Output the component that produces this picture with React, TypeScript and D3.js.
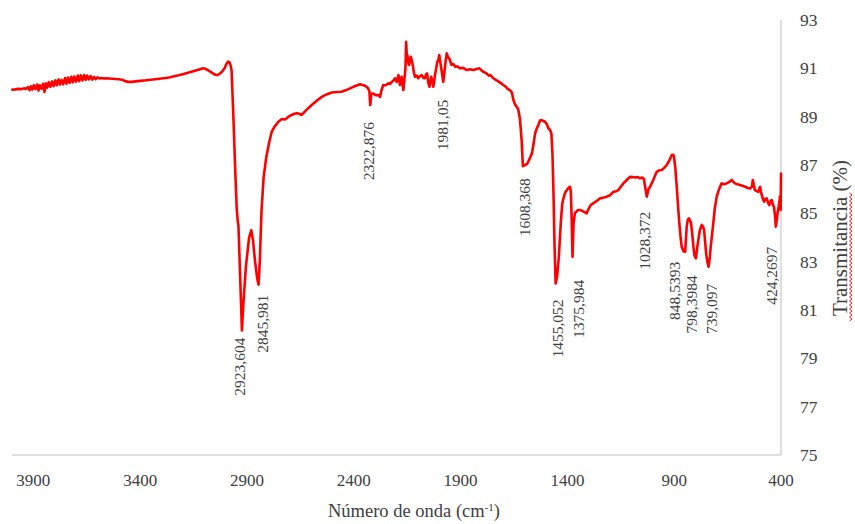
import React from "react";
import * as d3 from "d3";

// FTIR spectrum: wavenumber (cm-1) and transmittance (%)
const wavenumber: number[] = [
  3998, 3985, 3970, 3955, 3945, 3935, 3925, 3918, 3912, 3905, 3898, 3890, 3882, 3876, 3870, 3862,
  3855, 3848, 3842, 3835, 3828, 3820, 3812, 3805, 3797, 3790, 3782, 3775, 3768, 3760, 3752, 3745,
  3738, 3730, 3722, 3715, 3708, 3700, 3692, 3685, 3678, 3670, 3662, 3655, 3648, 3640, 3632, 3624,
  3616, 3608, 3600, 3590, 3580, 3570, 3560, 3545, 3530, 3515, 3500, 3485, 3470, 3455, 3440, 3420,
  3400, 3380, 3360, 3340, 3320, 3300, 3280, 3260, 3240, 3220, 3200, 3180, 3160, 3140, 3120, 3105,
  3095, 3082, 3065, 3050, 3040, 3030, 3017, 3005, 2995, 2988, 2982, 2976, 2972, 2968, 2962, 2955,
  2948, 2943, 2940, 2935, 2929, 2923.604, 2918, 2905, 2890, 2880, 2872, 2862, 2852, 2845.981, 2840, 2832,
  2822, 2810, 2797, 2784, 2770, 2753, 2737, 2722, 2705, 2691, 2678, 2667, 2655, 2644, 2625, 2597,
  2575, 2550, 2525, 2503, 2480, 2457, 2435, 2410, 2390, 2371, 2355, 2347, 2335, 2327, 2322.876, 2318,
  2308, 2300, 2293, 2285, 2277, 2270, 2262, 2250, 2238, 2230, 2222, 2214, 2207, 2199, 2191, 2184,
  2176, 2168, 2162, 2158, 2155, 2151, 2149, 2144, 2141, 2137, 2133, 2128, 2124, 2118, 2113, 2105,
  2098, 2090, 2082, 2074, 2067, 2062, 2057, 2051, 2046, 2041, 2037, 2032, 2028, 2023, 2020, 2014,
  2009, 2004, 2000, 1994, 1988, 1981.05, 1975, 1970, 1965, 1958, 1953, 1947, 1942, 1934, 1926, 1915,
  1903, 1888, 1871, 1856, 1840, 1826, 1812, 1800, 1794, 1780, 1768, 1760, 1747, 1735, 1722, 1710,
  1700, 1690, 1680, 1669, 1660, 1653, 1645, 1637, 1630, 1622, 1614, 1608.368, 1598, 1588, 1580, 1566,
  1558, 1551, 1544, 1536, 1528, 1520, 1512, 1505, 1497, 1489, 1481, 1475, 1470, 1465, 1460, 1455.052,
  1448, 1440, 1431, 1424, 1419, 1411, 1403, 1395, 1388, 1384, 1380, 1375.984, 1371, 1365, 1360, 1350,
  1341, 1330, 1320, 1310, 1300, 1290, 1279, 1265, 1247, 1230, 1216, 1200, 1185, 1175, 1162, 1150,
  1138, 1122, 1107, 1095, 1080, 1070, 1060, 1050, 1042, 1036, 1028.372, 1020, 1013, 1005, 998, 990,
  982, 970, 958, 947, 935, 922, 912, 905, 901, 895, 888, 882, 876, 870, 865, 856,
  848.5393, 841.5, 836, 831, 826, 821, 815, 810, 805, 798.3984, 792, 787, 780, 771, 765, 760,
  755, 750, 745, 739.097, 733, 729, 723, 717, 710, 701, 690, 678, 666, 654, 642, 631,
  623, 615, 604, 592, 580, 568, 556, 545, 536, 532, 528, 522, 514, 506, 502, 498,
  494, 490, 485, 479, 473, 467, 461, 455, 449, 443, 438, 433, 428, 424.2697, 420, 415,
  411, 407, 405, 403, 401.5, 400,
];

const transmittance: number[] = [
  90.12, 90.13, 90.15, 90.14, 90.17, 90.15, 90.22, 90.1, 90.26, 90.12, 90.3, 90.14, 90.33, 90.08, 90.3, 90.16,
  90.36, 90.02, 90.38, 90.2, 90.43, 90.24, 90.46, 90.26, 90.5, 90.3, 90.54, 90.33, 90.52, 90.34, 90.6, 90.36,
  90.62, 90.4, 90.65, 90.42, 90.66, 90.45, 90.7, 90.47, 90.71, 90.5, 90.72, 90.52, 90.7, 90.54, 90.68, 90.53,
  90.65, 90.55, 90.63, 90.58, 90.6, 90.58, 90.59, 90.58, 90.57, 90.56, 90.55, 90.53, 90.47, 90.44, 90.44, 90.46,
  90.48, 90.5, 90.52, 90.54, 90.56, 90.58, 90.6, 90.63, 90.67, 90.71, 90.76, 90.81, 90.86, 90.91, 90.96, 91.0,
  90.98, 90.92, 90.82, 90.74, 90.72, 90.76, 90.86, 91.0, 91.2, 91.28, 91.25, 91.1, 90.9, 90.0, 88.6, 86.8,
  85.2, 84.65, 84.5, 83.2, 81.6, 80.15, 81.1, 82.8, 84.0, 84.3, 83.9, 83.0, 82.3, 82.05, 83.0, 85.1,
  86.5, 87.3, 87.9, 88.38, 88.6, 88.79, 88.9, 88.88, 89.0, 89.07, 89.12, 89.14, 89.12, 89.07, 89.25, 89.48,
  89.65, 89.82, 89.93, 90.0, 90.02, 90.03, 90.1, 90.2, 90.28, 90.34, 90.3, 90.28, 90.2, 90.05, 89.48, 89.95,
  89.96, 89.9, 89.89, 89.9, 89.82, 90.1, 90.31, 90.3, 90.38, 90.35, 90.44, 90.5, 90.59, 90.44, 90.72, 90.31,
  90.65, 90.1, 90.64, 91.0, 92.1, 91.4, 91.55, 91.2, 91.14, 91.4, 91.48, 91.3, 91.14, 90.8, 90.65, 90.7,
  90.59, 90.68, 90.72, 90.6, 90.59, 90.75, 90.79, 90.4, 90.24, 90.5, 90.65, 90.4, 90.24, 90.5, 90.72, 91.0,
  91.27, 91.35, 91.55, 91.2, 90.86, 90.44, 90.9, 91.3, 91.62, 91.45, 91.41, 91.25, 91.14, 91.18, 91.07, 91.08,
  91.0, 91.02, 90.93, 90.96, 90.93, 90.97, 91.0, 90.9, 90.86, 90.8, 90.7, 90.72, 90.59, 90.52, 90.45, 90.38,
  90.31, 90.25, 90.15, 90.1, 90.0, 89.7, 89.5, 89.4, 89.3, 88.9, 88.0, 86.95, 87.0, 87.05, 87.2, 87.48,
  87.9, 88.31, 88.5, 88.65, 88.84, 88.86, 88.82, 88.79, 88.7, 88.52, 88.45, 88.3, 87.5, 85.8, 83.6, 82.1,
  82.4, 83.2, 84.6, 85.4, 85.6, 85.85, 85.96, 86.05, 86.1, 85.9, 84.8, 83.2, 84.6, 85.0, 85.05, 85.14,
  85.14, 85.1, 85.05, 85.0, 85.2, 85.35, 85.41, 85.5, 85.62, 85.65, 85.69, 85.75, 85.89, 85.9, 85.96, 86.1,
  86.24, 86.38, 86.51, 86.5, 86.48, 86.5, 86.45, 86.48, 86.42, 86.1, 85.69, 86.0, 86.1, 86.25, 86.38, 86.55,
  86.72, 86.78, 86.79, 86.88, 87.0, 87.2, 87.41, 87.42, 87.34, 86.9, 86.1, 85.3, 84.59, 84.0, 83.62, 83.42,
  83.41, 84.45, 84.75, 84.79, 84.7, 84.59, 84.1, 83.62, 83.25, 83.14, 83.6, 83.9, 84.3, 84.52, 84.45, 84.31,
  83.8, 83.3, 83.0, 82.79, 83.2, 83.62, 84.1, 84.59, 85.2, 85.69, 86.0, 86.24, 86.2, 86.24, 86.3, 86.38,
  86.3, 86.24, 86.2, 86.17, 86.14, 86.1, 86.05, 86.03, 86.1, 86.38, 86.2, 85.96, 85.92, 85.89, 86.0, 86.1,
  85.9, 85.76, 85.6, 85.48, 85.6, 85.62, 85.45, 85.34, 85.5, 85.55, 85.35, 85.27, 84.9, 84.45, 84.7, 85.1,
  85.27, 85.5, 85.69, 85.3, 85.14, 86.65,
];

// Annotated band positions (cm-1) and their printed labels
const peakWavenumbers: number[] = [
  2923.604, 2845.981, 2322.876, 1981.05, 1608.368, 1455.052, 1375.984, 1028.372, 848.5393, 798.3984, 739.097, 424.2697,
];
const peakLabels: string[] = [
  "2923,604", "2845,981", "2322,876", "1981,05", "1608,368", "1455,052", "1375,984", "1028,372", "848,5393", "798,3984", "739,097", "424,2697",
];
// Label placement relative to the band minimum: [dx, dy] in px
const peakLabelOffsets: [number, number][] = [
  [-2, 7], [3.5, 10], [-2, 17], [-1, 18], [2, 12], [1.5, 16], [5.5, 23], [-2, 15], [-11, 10], [-4, 17], [2.5, 17], [-4, 20],
];

const xTicks: number[] = [3900, 3400, 2900, 2400, 1900, 1400, 900, 400];
const yTicks: number[] = [75, 77, 79, 81, 83, 85, 87, 89, 91, 93];

const WIDTH = 855;
const HEIGHT = 524;
const FONT = "'Liberation Serif', 'Times New Roman', serif";
const TEXT_COLOR = "#404040";

export default function App() {
  const x = d3.scaleLinear().domain([4000, 400]).range([12, 781]);
  const y = d3.scaleLinear().domain([75, 93]).range([455, 20]);

  const points: [number, number][] = wavenumber.map((w, i) => [w, transmittance[i]]);
  const line = d3
    .line<[number, number]>()
    .x((d) => x(d[0]))
    .y((d) => y(d[1]));

  const lookup = new Map<number, number>();
  wavenumber.forEach((w, i) => lookup.set(w, transmittance[i]));

  // wavy spell-check style underline beside the y-axis title
  const squiggleTop = 192;
  const squiggleBottom = 321;
  const squigglePts: [number, number][] = [];
  for (let yy = squiggleBottom, k = 0; yy >= squiggleTop; yy -= 2, k++) {
    squigglePts.push([k % 2 === 0 ? 849.5 : 852, yy]);
  }
  const squiggle = d3.line<[number, number]>()(squigglePts) || "";

  return (
    <svg
      width={WIDTH}
      height={HEIGHT}
      style={{ position: "absolute", left: 0, top: 0, background: "#fff" }}
      fontFamily={FONT}
    >
      {/* axes */}
      <line x1={12} x2={781} y1={455} y2={455} stroke="#bfbfbf" strokeWidth={1} />
      <line x1={781} x2={781} y1={20} y2={455} stroke="#bfbfbf" strokeWidth={1} />

      {/* spectrum */}
      <path
        d={line(points) || ""}
        fill="none"
        stroke="#ff0000"
        strokeWidth={2.6}
        strokeLinejoin="round"
        strokeLinecap="round"
      />

      {/* band labels */}
      {peakWavenumbers.map((w, i) => {
        const px = x(w) + peakLabelOffsets[i][0];
        const py = y(lookup.get(w) ?? 85) + peakLabelOffsets[i][1];
        return (
          <text
            key={peakLabels[i]}
            transform={`translate(${px},${py}) rotate(-90)`}
            textAnchor="end"
            dominantBaseline="central"
            fontSize={15.5}
            fill={TEXT_COLOR}
          >
            {peakLabels[i]}
          </text>
        );
      })}

      {/* x tick labels */}
      {xTicks.map((t) => (
        <text key={t} x={x(t)} y={486} textAnchor="middle" fontSize={17} fill={TEXT_COLOR}>
          {t}
        </text>
      ))}

      {/* y tick labels (right side) */}
      {yTicks.map((t) => (
        <text key={t} x={800} y={y(t)} dominantBaseline="central" fontSize={17.5} fill={TEXT_COLOR}>
          {t}
        </text>
      ))}

      {/* axis titles */}
      <text x={414} y={517} textAnchor="middle" fontSize={18.5} fill={TEXT_COLOR}>
        Número de onda (cm
        <tspan dy={-6} fontSize={11}>-1</tspan>
        <tspan dy={6}>)</tspan>
      </text>
      <text
        transform={`translate(840,238) rotate(-90)`}
        textAnchor="middle"
        dominantBaseline="central"
        fontSize={21}
        fill={TEXT_COLOR}
      >
        Transmitancia (%)
      </text>
      <path d={squiggle} fill="none" stroke="#ff0000" strokeWidth={0.9} />
    </svg>
  );
}
